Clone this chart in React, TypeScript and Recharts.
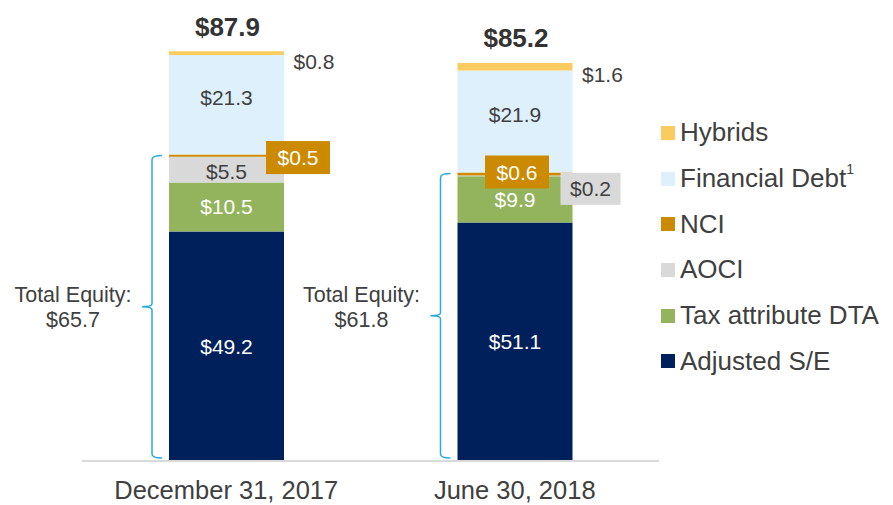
import { BarChart, Bar, XAxis, YAxis, Legend, LabelList } from "recharts";

const FONT = "Liberation Sans, Arial, sans-serif";
const TEXT = "#404040";

const periods = ["December 31, 2017", "June 30, 2018"];
const adjustedSE = [49.2, 51.1];
const taxDTA = [10.5, 9.9];
const aoci = [5.5, 0.2];
const nci = [0.5, 0.6];
const financialDebt = [21.3, 21.9];
const hybrids = [0.8, 1.6];
const totals = [87.9, 85.2];
const totalEquity = [65.7, 61.8];

// bottom -> top
const series = [
  { key: "adjusted", name: "Adjusted S/E", color: "#00205B" },
  { key: "tax", name: "Tax attribute DTA", color: "#93B45C" },
  { key: "aoci", name: "AOCI", color: "#D9D9D9" },
  { key: "nci", name: "NCI", color: "#CC8A00" },
  { key: "debt", name: "Financial Debt", color: "#DDF0FC" },
  { key: "hybrids", name: "Hybrids", color: "#FCCB5F" },
];

const data = periods.map((period, i) => ({
  period,
  adjusted: adjustedSE[i],
  tax: taxDTA[i],
  aoci: aoci[i],
  nci: nci[i],
  debt: financialDebt[i],
  hybrids: hybrids[i],
}));

const money = (v: number) => `$${v.toFixed(1)}`;

function box(p: any) {
  const x = p.x ?? p.viewBox?.x;
  const y = p.y ?? p.viewBox?.y;
  const width = p.width ?? p.viewBox?.width;
  const height = p.height ?? p.viewBox?.height;
  return { x: Number(x), y: Number(y), width: Number(width), height: Number(height) };
}

const insideLabel = (fill: string, dy = 0, skip?: (i: number) => boolean) => (props: any) => {
  const { x, y, width, height } = box(props);
  if (skip && skip(props.index)) return null;
  return (
    <text
      x={x + width / 2}
      y={y + height / 2 + dy}
      textAnchor="middle"
      dominantBaseline="central"
      fontSize={21}
      fontFamily={FONT}
      fill={fill}
    >
      {money(Number(props.value))}
    </text>
  );
};

function TagBox({ cx, cy, w, h, fill, color, text }: any) {
  return (
    <g>
      <rect x={cx - w / 2} y={cy - h / 2} width={w} height={h} fill={fill} />
      <text
        x={cx}
        y={cy}
        textAnchor="middle"
        dominantBaseline="central"
        fontSize={21}
        fontFamily={FONT}
        fill={color}
      >
        {text}
      </text>
    </g>
  );
}

// NCI and small AOCI tags, drawn from the debt segment so they sit above earlier bars
const tagLabels = (props: any) => {
  const { x, y, width, height } = box(props);
  const i = props.index;
  const scale = height / financialDebt[i];
  const nciTop = y + height;
  const nciMid = nciTop + (nci[i] * scale) / 2;
  const aociMid = nciTop + nci[i] * scale + (aoci[i] * scale) / 2;
  const nciX = i === 0 ? x + width + 14 : x + width / 2 + 2;
  return (
    <g>
      <TagBox cx={nciX} cy={nciMid + (i === 0 ? 2 : -2)} w={64} h={33} fill="#CC8A00" color="#fff" text={money(nci[i])} />
      {i === 1 && (
        <TagBox cx={x + width + 18} cy={aociMid + 13} w={60} h={32} fill="#D9D9D9" color={TEXT} text={money(aoci[i])} />
      )}
    </g>
  );
};

const hybridLabels = (props: any) => {
  const { x, y, width, height } = box(props);
  const i = props.index;
  return (
    <g fontFamily={FONT}>
      <text x={x + width + 9.5} y={y + height / 2 + 8} dominantBaseline="central" fontSize={21} fill={TEXT}>
        {money(hybrids[i])}
      </text>
      <text x={x + width / 2 + 1} y={y - 15.5} textAnchor="middle" fontSize={26} fontWeight="bold" fill="#333">
        {money(totals[i])}
      </text>
    </g>
  );
};

const equityBracket = (props: any) => {
  const { x, y, width, height } = box(props);
  const i = props.index;
  const scale = height / adjustedSE[i];
  const base = y + height;
  const top = base - totalEquity[i] * scale + 1;
  const bottom = base - 3;
  const mid = (top + bottom) / 2;
  const bx = x - 17;
  const d = `M ${bx + 10} ${top} Q ${bx} ${top} ${bx} ${top + 4} L ${bx} ${mid - 3} Q ${bx} ${mid} ${bx - 10} ${mid} Q ${bx} ${mid} ${bx} ${mid + 3} L ${bx} ${bottom - 4} Q ${bx} ${bottom} ${bx + 10} ${bottom}`;
  return (
    <g>
      <path d={d} fill="none" stroke="#29ABE2" strokeWidth={1.5} />
      <text x={bx - 79} y={base - 159} textAnchor="middle" fontSize={21.5} fontFamily={FONT} fill={TEXT}>
        Total Equity:
      </text>
      <text x={bx - 79} y={base - 134} textAnchor="middle" fontSize={21.5} fontFamily={FONT} fill={TEXT}>
        {money(totalEquity[i])}
      </text>
    </g>
  );
};

function LegendBox() {
  return (
    <div style={{ fontFamily: FONT, fontSize: 26, color: TEXT }}>
      {[...series].reverse().map((s) => (
        <div key={s.key} style={{ display: "flex", alignItems: "center", height: 45.7 }}>
          <span style={{ width: 14, height: 14, background: s.color, marginRight: 5, flex: "none" }} />
          <span>
            {s.name}
            {s.key === "debt" && <sup style={{ fontSize: 14, verticalAlign: "top", position: "relative", top: -2 }}>1</sup>}
          </span>
        </div>
      ))}
    </div>
  );
}

export default function App() {
  return (
    <div style={{ position: "absolute", left: 0, top: 0, width: 893, height: 505, background: "#fff" }}>
      <BarChart
        width={893}
        height={505}
        data={data}
        margin={{ top: 41, right: 234, bottom: 0, left: 82 }}
        barSize={115}
      >
        <XAxis
          dataKey="period"
          height={44}
          interval={0}
          tickLine={false}
          tickMargin={14}
          axisLine={{ stroke: "#D9D9D9", strokeWidth: 2 }}
          tick={{ fontSize: 25.5, fill: TEXT, fontFamily: FONT }}
        />
        <YAxis hide domain={[0, 90]} />
        <Legend
          layout="vertical"
          align="center"
          verticalAlign="middle"
          wrapperStyle={{ left: 661, top: 110, width: 232 }}
          content={() => <LegendBox />}
        />
        <Bar dataKey="adjusted" name="Adjusted S/E" stackId="a" fill="#00205B" isAnimationActive={false}>
          <LabelList dataKey="adjusted" content={insideLabel("#fff")} />
          <LabelList dataKey="adjusted" content={equityBracket} />
        </Bar>
        <Bar dataKey="tax" name="Tax attribute DTA" stackId="a" fill="#93B45C" isAnimationActive={false}>
          <LabelList dataKey="tax" content={insideLabel("#fff")} />
        </Bar>
        <Bar dataKey="aoci" name="AOCI" stackId="a" fill="#D9D9D9" isAnimationActive={false}>
          <LabelList dataKey="aoci" content={insideLabel(TEXT, 2, (i) => i === 1)} />
        </Bar>
        <Bar dataKey="nci" name="NCI" stackId="a" fill="#CC8A00" isAnimationActive={false} />
        <Bar dataKey="debt" name="Financial Debt" stackId="a" fill="#DDF0FC" isAnimationActive={false}>
          <LabelList dataKey="debt" content={insideLabel(TEXT, -7)} />
          <LabelList dataKey="debt" content={tagLabels} />
        </Bar>
        <Bar dataKey="hybrids" name="Hybrids" stackId="a" fill="#FCCB5F" isAnimationActive={false}>
          <LabelList dataKey="hybrids" content={hybridLabels} />
        </Bar>
      </BarChart>
    </div>
  );
}
